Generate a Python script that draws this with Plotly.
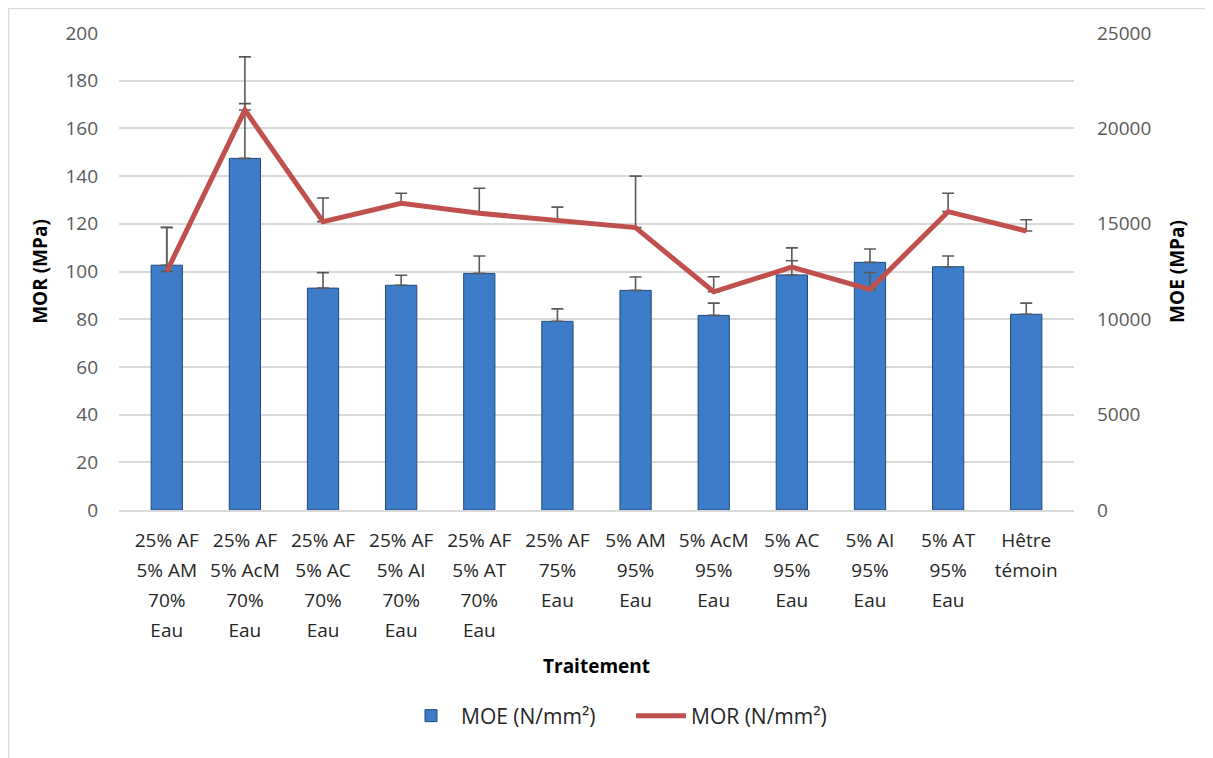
import plotly.graph_objects as go

categories = [
    "25% AF<br>5% AM<br>70%<br>Eau",
    "25% AF<br>5% AcM<br>70%<br>Eau",
    "25% AF<br>5% AC<br>70%<br>Eau",
    "25% AF<br>5% AI<br>70%<br>Eau",
    "25% AF<br>5% AT<br>70%<br>Eau",
    "25% AF<br>75%<br>Eau",
    "5% AM<br>95%<br>Eau",
    "5% AcM<br>95%<br>Eau",
    "5% AC<br>95%<br>Eau",
    "5% AI<br>95%<br>Eau",
    "5% AT<br>95%<br>Eau",
    "Hêtre<br>témoin",
]

moe_values = [12830, 18430, 11630, 11780, 12400, 9890, 11510, 10200, 12320, 12980, 12750, 10260]
moe_errors = [1980, 2870, 810, 520, 910, 650, 700, 640, 740, 700, 560, 580]

mor_values = [100.0, 167.7, 120.9, 128.6, 124.4, 121.6, 118.4, 91.5, 101.8, 92.5, 125.1, 117.0]
mor_errors = [18.5, 22.3, 9.9, 4.2, 10.5, 5.4, 21.6, 6.3, 8.1, 7.1, 7.7, 4.7]

moe_ticks = [0, 2500, 5000, 7500, 10000, 12500, 15000, 17500, 20000, 22500, 25000]
moe_ticktext = ["0", "", "5000", "", "10000", "", "15000", "", "20000", "", "25000"]

FONT = "Open Sans"
# page body has an 8px margin; figure is placed at (8, 8)
W, H = 1205, 750
L, R, T, B = 111, 139, 25, 248
pw, ph = W - L - R, H - T - B


def styled(label, size=19):
    return "<br>".join(f"<span style='font-size:{size}px'>{part}</span>"
                       for part in label.split("<br>"))


tick_text = [styled(c) for c in categories]

fig = go.Figure()

fig.add_trace(go.Bar(
    x=categories, y=moe_values, name="MOE (N/mm²)",
    marker=dict(color="#3d7cc9", line=dict(color="#22497a", width=1)),
    error_y=dict(type="data", symmetric=False, array=moe_errors,
                 arrayminus=[0] * len(moe_errors),
                 color="#595959", thickness=1.6, width=6),
    yaxis="y",
))

fig.add_trace(go.Scatter(
    x=categories, y=mor_values, name="MOR (N/mm²)", mode="lines",
    line=dict(color="#c0504d", width=5),
    error_y=dict(type="data", symmetric=False, array=mor_errors,
                 arrayminus=[0] * len(mor_errors),
                 color="#595959", thickness=1.6, width=6),
    yaxis="y2",
))


def px_x(fx):
    return (fx - L) / pw


def px_y(fy):
    return (H - B - fy) / ph


fig.update_layout(
    width=W, height=H,
    margin=dict(l=L, r=R, t=T, b=B, autoexpand=False),
    paper_bgcolor="white", plot_bgcolor="white",
    font=dict(family=FONT, size=19, color="#404040"),
    bargap=0.6,
    showlegend=True,
    legend=dict(orientation="h", x=px_x(623), xanchor="center",
                y=px_y(708), yanchor="middle",
                font=dict(family=FONT, size=21, color="#262626"),
                itemwidth=50, entrywidth=165, entrywidthmode="pixels",
                traceorder="normal"),
    xaxis=dict(
        type="category",
        tickmode="array", tickvals=categories, ticktext=tick_text,
        showgrid=False, showline=True, linecolor="#d9d9d9", linewidth=1.5,
        ticks="", tickfont=dict(family=FONT, size=23, color="#262626"),
        ticklabelstandoff=8,
        title=dict(text="<b>Traitement</b>", font=dict(family=FONT, size=19, color="black"),
                   standoff=18),
        automargin=False,
    ),
    yaxis=dict(
        side="right", range=[0, 25000], tickvals=moe_ticks, ticktext=moe_ticktext,
        showgrid=True, gridcolor="#d9d9d9", gridwidth=1.5,
        zeroline=False, showline=False, ticks="",
        tickfont=dict(family=FONT, size=19, color="#595959"),
        ticklabelstandoff=22,
        title=dict(text="<b>MOE (MPa)</b>", font=dict(family=FONT, size=19, color="black"),
                   standoff=20),
        automargin=False,
    ),
    yaxis2=dict(
        side="left", overlaying="y", range=[0, 200], dtick=20,
        showgrid=False, zeroline=False, showline=False, ticks="",
        tickfont=dict(family=FONT, size=19, color="#595959"),
        ticklabelstandoff=20,
        title=dict(text="<b>MOR (MPa)</b>", font=dict(family=FONT, size=19, color="black"),
                   standoff=12),
        automargin=False,
    ),
    shapes=[
        dict(type="line", xref="paper", yref="paper",
             x0=px_x(0.5), x1=px_x(0.5), y0=px_y(H), y1=px_y(0),
             line=dict(color="#d9d9d9", width=1.5), layer="below"),
        dict(type="line", xref="paper", yref="paper",
             x0=px_x(0), x1=px_x(W), y0=px_y(0.5), y1=px_y(0.5),
             line=dict(color="#d9d9d9", width=1.5), layer="below"),
    ],
)

fig.write_html("out.html")
